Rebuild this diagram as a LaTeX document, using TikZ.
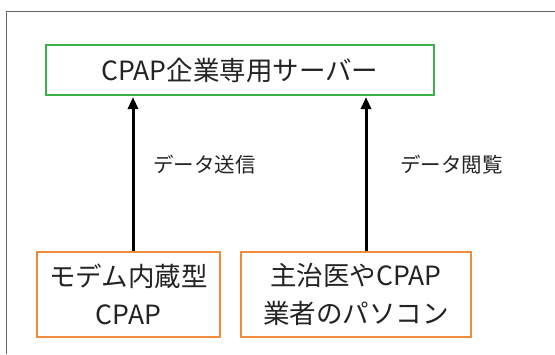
\documentclass[tikz,border=0pt]{standalone}
\usepackage{fontspec}
\setmainfont{Noto Sans CJK JP}
\usetikzlibrary{arrows.meta}
\definecolor{boxgreen}{RGB}{60,176,74}
\definecolor{boxorange}{RGB}{240,140,60}
\definecolor{framegray}{RGB}{100,100,100}
\definecolor{txt}{RGB}{35,35,35}
\tikzset{
  box/.style={draw, fill=white, inner sep=0pt, align=center, text=txt,
    font=\fontsize{26.5}{38}\selectfont},
  greenbox/.style={box, draw=boxgreen, line width=2pt},
  orangebox/.style={box, draw=boxorange, line width=2.5pt},
  arr/.style={line width=3pt, -{Triangle[width=10pt,length=12pt]}},
  lbl/.style={anchor=west, inner sep=0pt, text=txt, font=\fontsize{20.5}{24}\selectfont},
}
\begin{document}
\begin{tikzpicture}[x=1pt,y=-1pt]
\useasboundingbox (0,0) rectangle (555,354);
\draw[framegray, line width=1.3pt] (6.5,354) -- (6.5,11.5) -- (555,11.5);
\node[greenbox, minimum width=388pt, minimum height=50pt] (server) at (240,70) {CPAP企業専用サーバー};
\node[orangebox, minimum width=183pt, minimum height=85pt] (modem) at (128.5,294.5) {モデム内蔵型\\CPAP};
\node[orangebox, minimum width=230pt, minimum height=85pt] (pc) at (356,294.5) {主治医やCPAP\\業者のパソコン};
\coordinate (ax1) at (133,0);
\coordinate (ax2) at (366,0);
\draw[arr] (modem.north -| ax1) -- ([yshift=-1pt]server.south -| ax1);
\draw[arr] (pc.north -| ax2) -- ([yshift=-1pt]server.south -| ax2);
\node[lbl] (l1) at (153,165) {データ送信};
\node[lbl] (l2) at (400,165) {データ閲覧};
\end{tikzpicture}
\end{document}
